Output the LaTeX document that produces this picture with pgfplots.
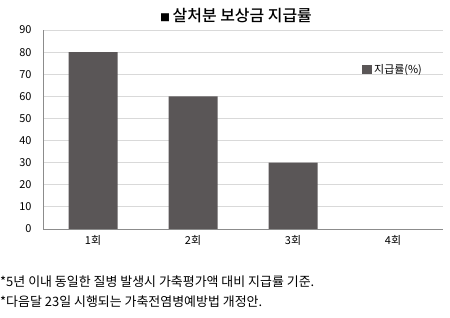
\documentclass[border=0pt]{standalone}
\usepackage{fontspec}
\setmainfont{Noto Sans CJK KR}
\newfontfamily\titlefont{Noto Sans CJK KR Medium}
\usepackage{pgfplots}
\pgfplotsset{compat=1.18}
\definecolor{barcol}{HTML}{5A5657}
\definecolor{gridcol}{HTML}{D9D9D9}
\definecolor{axcol}{HTML}{8C8C8C}
\begin{document}
\begin{tikzpicture}
\useasboundingbox (0,0) rectangle (450bp,318bp);
\begin{axis}[
    at={(43bp,89bp)}, anchor=south west,
    scale only axis, width=400bp, height=199bp,
    xmin=-0.5, xmax=3.5, ymin=0, ymax=90,
    axis x line=bottom, axis y line=left,
    axis line style={draw=axcol, -},
    xtick={0,1,2,3},
    xticklabels={1회,2회,3회,4회},
    ytick={0,10,...,90},
    major tick length=0pt,
    ymajorgrids, grid style={gridcol, line width=0.8pt},
    tick label style={font=\fontsize{11}{13}\selectfont, text=black},
    /pgf/number format/assume math mode=true,
    yticklabel style={xshift=-8bp},
    xticklabel style={yshift=-3bp},
    ybar, bar width=49bp,
    legend style={at={(rel axis cs:0.79,0.8)}, anchor=west, draw=none, fill=none,
        font=\fontsize{11}{13}\selectfont},
    legend image code/.code={\fill[barcol] (0bp,-4bp) rectangle (10bp,5bp);},
]
\addplot[fill=barcol, draw=none] coordinates {(0,80) (1,60) (2,30)};
\addlegendentry{지급률(\%)}
\end{axis}
\node[font=\titlefont\fontsize{16}{19}\selectfont] at (236bp,302bp) {{\fontsize{10}{12}\selectfont■}\,살처분 보상금 지급률};
\node[anchor=west, font=\fontsize{13}{15}\selectfont, inner sep=0pt] at (0bp,36bp) {*5년 이내 동일한 질병 발생시 가축평가액 대비 지급률 기준.};
\node[anchor=west, font=\fontsize{13}{15}\selectfont, inner sep=0pt] at (0bp,16bp) {*다음달 23일 시행되는 가축전염병예방법 개정안.};
\end{tikzpicture}
\end{document}
